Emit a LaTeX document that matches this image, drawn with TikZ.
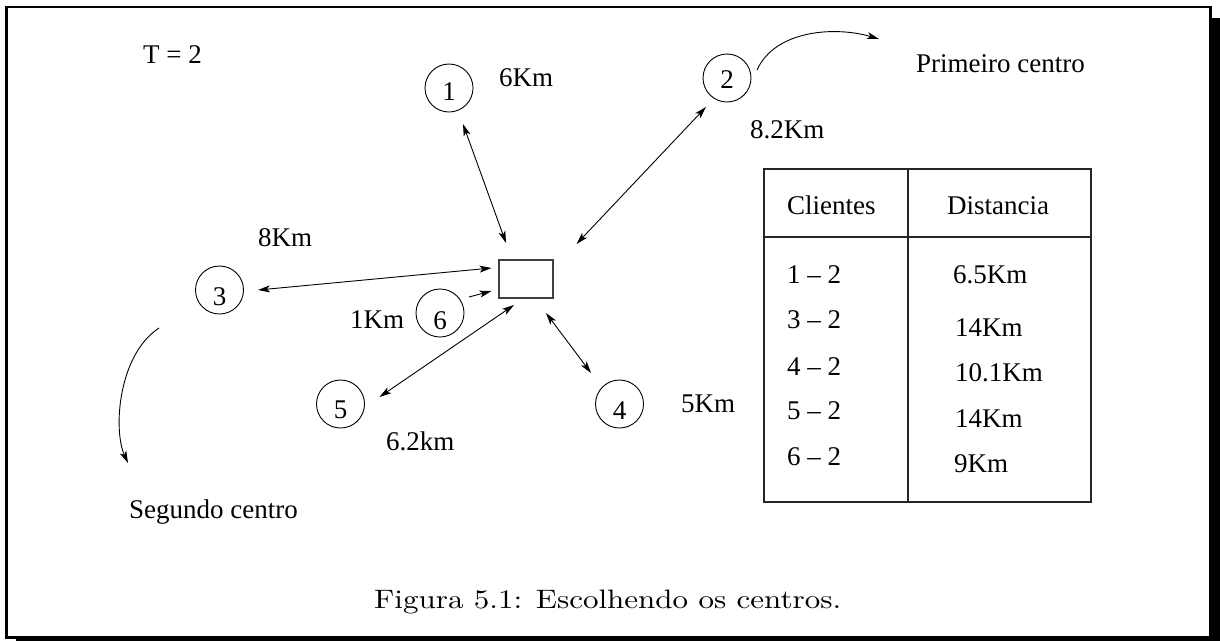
\documentclass[tikz,border=0pt]{standalone}
\usepackage{fontspec}
\newfontfamily\tm{Liberation Serif}[Ligatures=TeX]
\usetikzlibrary{arrows.meta,calc}
\begin{document}
\begin{tikzpicture}[x=1pt,y=-1pt,
  tip/.tip={Stealth[length=12pt,width=7pt,inset=3pt]},
  lbl/.style={anchor=base west, inner sep=0pt, font=\tm\fontsize{27}{30}\selectfont},
  client/.style={draw, circle, minimum size=48pt, inner sep=0pt, line width=0.9pt,
    font=\tm\fontsize{27}{30}\selectfont, text height=#1, text depth=0pt},
  depot/.style={draw=black!75, minimum width=54pt, minimum height=38pt, inner sep=0pt, line width=1.3pt},
  link/.style={line width=0.9pt, tip-tip},
  onearrow/.style={line width=0.9pt, -tip},
  tableline/.style={line width=1.2pt, draw=black!85},
]
\useasboundingbox (0,0) rectangle (1220,641);
% frame with shadow
\fill[black] (16,18) rectangle (1220,641);
\draw[line width=2.5pt, fill=white] (6.5,7) rectangle (1210.5,637.5);

% nodes
\node[depot] (box) at (526,279) {};
\node[client=25.3pt] (c1) at (449,88) {1};
\node[client=20.3pt] (c2) at (727,78) {2};
\node[client=30.3pt] (c3) at (219.5,290) {3};
\node[client=30.3pt] (c4) at (619.5,404) {4};
\node[client=28.3pt] (c5) at (340.5,404) {5};
\node[client=32.3pt] (c6) at (440,313) {6};

% labels
\node[lbl] (tlab) at (143,63) {T = 2};
\node[lbl] (d1) at (499,86) {6Km};
\node[lbl] (prim) at (916,72) {Primeiro centro};
\node[lbl] (d2) at (750,138) {8.2Km};
\node[lbl] (d3) at (258,246) {8Km};
\node[lbl] (d6) at (350,328) {1Km};
\node[lbl] (d4) at (681,412) {5Km};
\node[lbl] (d5) at (386,450) {6.2km};
\node[lbl] (seg) at (129,518) {Segundo centro};

% connectors
\draw[link] ($(c1)+(14,36)$) -- ($(box)+(-20,-36)$);
\draw[link] ($(c2)+(-21,29)$) -- ($(box)+(50.5,-35)$);
\draw[link] ($(c3)+(38.5,0)$) -- ($(box)+(-34.5,-11)$);
\draw[onearrow] ($(c6)+(29,-16)$) -- ($(box)+(-34.5,12)$);
\draw[link] ($(c5)+(39,-7)$) -- ($(box)+(-12,26)$);
\draw[link] ($(box)+(20,34)$) -- ($(c4)+(-28.5,-31)$);

% curved arrows
\coordinate (e2) at (879,39);
\coordinate (e3) at (128,463);
\draw[onearrow] ($(c2)+(30,-8)$) .. controls (775,30) and (835,26) .. (e2);
\draw[onearrow] ($(c3)+(-60.5,38)$) .. controls (118,355) and (113,430) .. (e3);

% table
\draw[tableline] (764,169) rectangle (1091,502);
\draw[tableline] (908,169) -- (908,502);
\draw[tableline] (764,237) -- (1091,237);
\node[lbl] (hc) at (787,214) {Clientes};
\node[lbl] (hd) at (947,214) {Distancia};
\node[lbl] (r1a) at (787,283) {1 – 2};
\node[lbl] (r2a) at (787,328) {3 – 2};
\node[lbl] (r3a) at (787,375) {4 – 2};
\node[lbl] (r4a) at (787,419) {5 – 2};
\node[lbl] (r5a) at (787,465) {6 – 2};
\node[lbl] (r1b) at (953,283) {6.5Km};
\node[lbl] (r2b) at (955,336) {14Km};
\node[lbl] (r3b) at (955,381) {10.1Km};
\node[lbl] (r4b) at (955,427) {14Km};
\node[lbl] (r5b) at (954,472) {9Km};

% caption
\node[anchor=base west, inner sep=0pt] (cap) at (374,608)
  {\resizebox{467pt}{18.5pt}{Figura 5.1: Escolhendo os centros.}};
\end{tikzpicture}
\end{document}
